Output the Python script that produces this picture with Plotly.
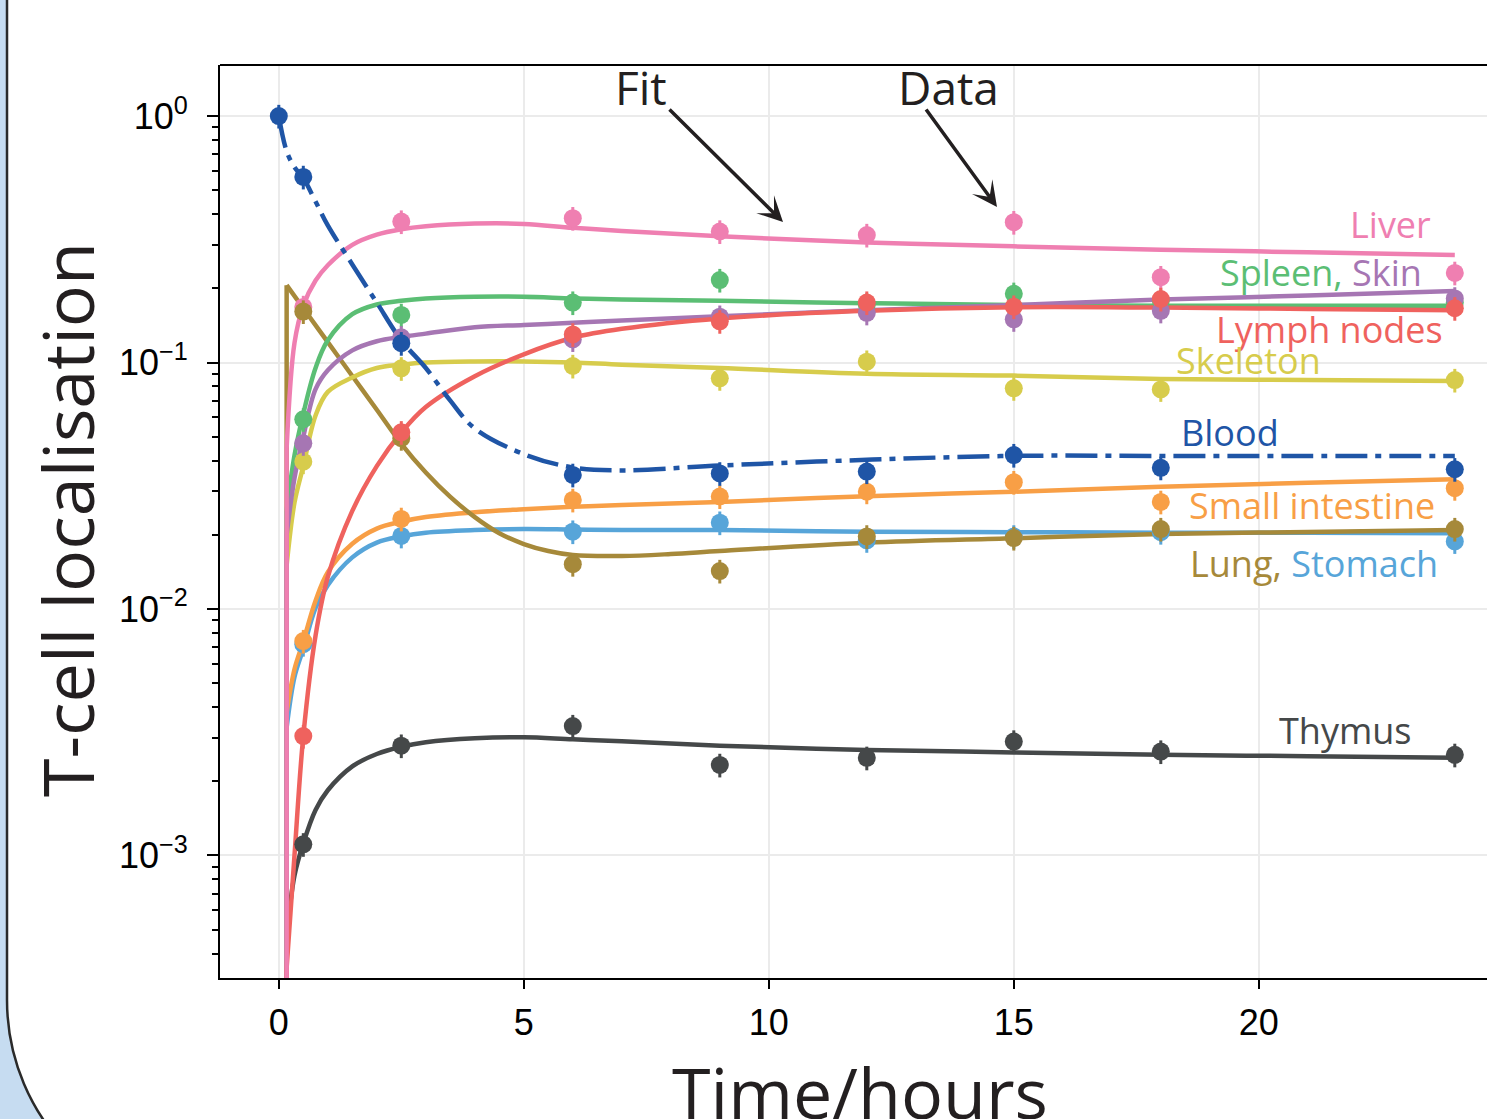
import plotly.graph_objects as go

# ---------------- data ----------------
data_t = [0.5, 2.5, 6, 9, 12, 15, 18, 24]
blood_t = [0, 0.5, 2.5, 6, 9, 12, 15, 18, 24]

liver_data = [0.168, 0.373, 0.385, 0.340, 0.329, 0.371, 0.222, 0.231]
spleen_data = [0.0588, 0.156, 0.175, 0.216, 0.172, 0.190, 0.178, 0.175]
skin_data = [0.047, 0.1265, 0.124, 0.1534, 0.159, 0.1497, 0.162, 0.182]
lymph_data = [0.00305, 0.0521, 0.130, 0.147, 0.175, 0.1685, 0.181, 0.166]
skeleton_data = [0.0396, 0.0947, 0.0968, 0.0863, 0.1008, 0.0786, 0.0778, 0.0849]
blood_data = [1.0, 0.566, 0.1197, 0.035, 0.0355, 0.0361, 0.0421, 0.0374, 0.0369]
smallint_data = [0.00741, 0.0232, 0.0277, 0.0286, 0.0299, 0.0327, 0.0272, 0.0309]
stomach_data = [0.0072, 0.0198, 0.0206, 0.0224, 0.0190, 0.0197, 0.0205, 0.0188]
lung_data = [0.161, 0.0493, 0.0152, 0.01426, 0.0197, 0.0194, 0.0211, 0.0211]
thymus_data = [0.00111, 0.00279, 0.00335, 0.00233, 0.00249, 0.0029, 0.00264, 0.00256]

# fitted model curves
fit_t = [0.16, 0.32, 0.5, 0.75, 1.0, 1.5, 2.0, 2.5, 3.0, 4.0, 5.0, 6.0, 7.0, 9.0, 12.0, 15.0, 18.0, 21.0, 24.0]
liver_fit = [0.045, 0.12, 0.170, 0.215, 0.248, 0.300, 0.330, 0.347, 0.357, 0.366, 0.365, 0.352, 0.342, 0.325, 0.307, 0.296, 0.287, 0.280, 0.273]
spleen_fit = [0.025, 0.042, 0.062, 0.095, 0.123, 0.157, 0.172, 0.178, 0.182, 0.185, 0.185, 0.182, 0.180, 0.178, 0.174, 0.171, 0.170, 0.170, 0.170]
skin_fit = [0.020, 0.034, 0.050, 0.078, 0.093, 0.112, 0.122, 0.127, 0.131, 0.139, 0.142, 0.145, 0.148, 0.154, 0.163, 0.171, 0.180, 0.187, 0.195]
skeleton_fit = [0.015, 0.027, 0.038, 0.061, 0.076, 0.087, 0.095, 0.098, 0.100, 0.101, 0.101, 0.100, 0.098, 0.095, 0.090, 0.0885, 0.0858, 0.085, 0.0841]
lymph_fit = [0.00035, 0.0010, 0.00305, 0.0078, 0.0135, 0.025, 0.038, 0.052, 0.066, 0.088, 0.108, 0.126, 0.137, 0.151, 0.162, 0.1675, 0.167, 0.165, 0.163]
smallint_fit = [0.0038, 0.0057, 0.0074, 0.0108, 0.0141, 0.0184, 0.0212, 0.0226, 0.0236, 0.0247, 0.0254, 0.0260, 0.0264, 0.0272, 0.0287, 0.0299, 0.0313, 0.0325, 0.0336]
stomach_fit = [0.0033, 0.0053, 0.0069, 0.0101, 0.0125, 0.0162, 0.0186, 0.0197, 0.0204, 0.0209, 0.0211, 0.0210, 0.0209, 0.0209, 0.0206, 0.0205, 0.0204, 0.0204, 0.0203]
thymus_fit = [0.00047, 0.00083, 0.00112, 0.00153, 0.00184, 0.00230, 0.00258, 0.00276, 0.00288, 0.00299, 0.00302, 0.00296, 0.00291, 0.00279, 0.00268, 0.00262, 0.00256, 0.00253, 0.00249]

lung_fit_t = [0.16, 0.5, 1.0, 1.5, 2.0, 2.5, 3.0, 3.5, 4.0, 4.5, 5.0, 5.5, 6.0, 7.0, 8.0, 9.0, 12.0, 15.0, 18.0, 21.0, 24.0]
lung_fit = [0.206, 0.166, 0.121, 0.0882, 0.0643, 0.0468, 0.0358, 0.0285, 0.0236, 0.0203, 0.01835, 0.01719, 0.01656, 0.01641, 0.01671, 0.01719, 0.01858, 0.01936, 0.02015, 0.02053, 0.02092]

blood_fit_t = [0, 0.16, 0.32, 0.5, 0.75, 1.0, 1.5, 2.0, 2.5, 3.0, 3.5, 4.0, 5.0, 6.0, 7.0, 9.0, 12.0, 15.0, 18.0, 21.0, 24.0]
blood_fit = [1.0, 0.72, 0.62, 0.56, 0.45, 0.36, 0.25, 0.175, 0.123, 0.095, 0.070, 0.054, 0.0425, 0.0375, 0.0365, 0.0382, 0.0403, 0.0418, 0.0418, 0.0418, 0.0418]

below_axis = 1e-6   # model value before the first time step (effectively zero)

x_ticks = [0, 5, 10, 15, 20]
y_ticks = [1e-3, 1e-2, 1e-1, 1]
y_ticktext = ["10<sup>\u22123</sup>", "10<sup>\u22122</sup>", "10<sup>\u22121</sup>", "10<sup>0</sup>"]

C = dict(liver="#ef7fb1", spleen="#5bbe74", skin="#a676b3", lymph="#ef625e",
         skeleton="#d7cc4c", blood="#1f55a6", smallint="#f89f46", stomach="#57a5d9",
         lung="#a6893a", thymus="#454849")

LAB_FONT = "Open Sans"
W, H = 1487, 1119
L, R, T, B = 220, 0, 65, 141
PW, PH = W - L - R, H - T - B


def PX(px):
    return (px - L) / PW


def PY(py):
    return (H - B - py) / PH


fig = go.Figure()


def fit_line(t, v, color, shape="spline", dash="solid", drop=True):
    if drop:
        # vertical rise from (effectively) zero at the first model time step
        fig.add_trace(go.Scatter(x=[t[0], t[0]], y=[below_axis, v[0]], mode="lines",
                                 line=dict(color=color, width=4.5), hoverinfo="skip"))
    fig.add_trace(go.Scatter(x=t, y=v, mode="lines",
                             line=dict(color=color, width=4.5, shape=shape, dash=dash),
                             hoverinfo="skip"))


fit_line(fit_t, thymus_fit, C["thymus"])
fit_line(fit_t, stomach_fit, C["stomach"])
fit_line(fit_t, smallint_fit, C["smallint"])
fit_line(lung_fit_t, lung_fit, C["lung"])
fit_line(fit_t, skeleton_fit, C["skeleton"])
fit_line(fit_t, spleen_fit, C["spleen"])
fit_line(fit_t, skin_fit, C["skin"])
fit_line(fit_t, lymph_fit, C["lymph"])
fit_line(fit_t, liver_fit, C["liver"])
fit_line(blood_fit_t, blood_fit, C["blood"], dash="32px,8px,6px,8px", drop=False)


def data_pts(t, v, color):
    fig.add_trace(go.Scatter(x=t, y=v, mode="markers",
                             marker=dict(color=color, size=18, line=dict(width=0)),
                             error_y=dict(type="percent", value=11, color=color, thickness=3, width=0),
                             hoverinfo="skip"))


data_pts(data_t, thymus_data, C["thymus"])
data_pts(data_t, stomach_data, C["stomach"])
data_pts(data_t, smallint_data, C["smallint"])
data_pts(data_t, skeleton_data, C["skeleton"])
data_pts(data_t, spleen_data, C["spleen"])
data_pts(data_t, skin_data, C["skin"])
data_pts(data_t, liver_data, C["liver"])
data_pts(data_t, lung_data, C["lung"])
data_pts(data_t, lymph_data, C["lymph"])
data_pts(blood_t, blood_data, C["blood"])

# ---------------- layout ----------------
axis_font = dict(family="Liberation Sans, Arial", size=36, color="black")
grid = "#ebebeb"

fig.update_layout(
    width=W, height=H,
    margin=dict(l=L, r=R, t=T, b=B),
    paper_bgcolor="white", plot_bgcolor="white",
    showlegend=False,
    xaxis=dict(range=[-1.2, -1.2 + PW / 49.0], tickmode="array", tickvals=x_ticks,
               ticks="outside", ticklen=9, tickwidth=2, tickcolor="black",
               showline=True, linecolor="black", linewidth=2,
               showgrid=True, gridcolor=grid, gridwidth=1.5, zeroline=False,
               tickfont=axis_font, ticklabelstandoff=3),
    yaxis=dict(type="log", range=[-3.497, 0.207], tickmode="array",
               tickvals=y_ticks, ticktext=y_ticktext,
               ticks="outside", ticklen=11, tickwidth=2, tickcolor="black",
               showline=True, linecolor="black", linewidth=2,
               showgrid=True, gridcolor=grid, gridwidth=1.5, zeroline=False,
               tickfont=dict(family="Liberation Sans, Arial", size=36, color="black"),
               ticklabelstandoff=12,
               minor=dict(ticks="outside", ticklen=6, tickwidth=1.5, tickcolor="black",
                          showgrid=False, tickmode="array",
                          tickvals=[m * 10 ** e for e in (-4, -3, -2, -1) for m in range(2, 10)])),
)

# panel background and frame
r = 215
k = 0.5523 * r
cx, cy = 7 + r, 1000


def P(x, y):
    return f"{PX(x):.5f},{PY(y):.5f}"


fill_path = (f"M{P(-5, -5)} L{P(7, -5)} L{P(7, cy)} C{P(7, cy + k)} {P(cx - k, cy + r)} {P(cx, cy + r)} "
             f"L{P(-5, cy + r)} Z")
line_path = f"M{P(7, -5)} L{P(7, cy)} C{P(7, cy + k)} {P(cx - k, cy + r)} {P(cx, cy + r)}"
fig.add_shape(type="path", xref="paper", yref="paper", path=fill_path,
              fillcolor="#c6dcf1", line=dict(width=0), layer="below")
fig.add_shape(type="path", xref="paper", yref="paper", path=line_path,
              line=dict(color="#2a2a2a", width=2.5), layer="below")
fig.add_shape(type="line", xref="paper", yref="paper", x0=0, x1=1.01, y0=1, y1=1,
              line=dict(color="black", width=2))

# axis titles
fig.add_annotation(text="T-cell localisation", xref="paper", yref="paper",
                   x=PX(67), y=PY(520), textangle=-90, showarrow=False,
                   xanchor="center", yanchor="middle",
                   font=dict(family=LAB_FONT, size=70, color="#231f20"))
fig.add_annotation(text="Time/hours", xref="paper", yref="paper",
                   x=PX(860), y=PY(1042), showarrow=False,
                   xanchor="center", yanchor="top",
                   font=dict(family=LAB_FONT, size=70, color="#231f20"))

# series labels
labels = [
    ("Liver", C["liver"], 1433, 224),
    (f"<span style='color:{C['spleen']}'>Spleen, </span><span style='color:{C['skin']}'>Skin</span>", None, 1424, 272),
    ("Lymph nodes", C["lymph"], 1445, 330),
    ("Skeleton", C["skeleton"], 1323, 360),
    ("Blood", C["blood"], 1281, 432),
    ("Small intestine", C["smallint"], 1437, 505),
    (f"<span style='color:{C['lung']}'>Lung, </span><span style='color:{C['stomach']}'>Stomach</span>", None, 1440, 563),
    ("Thymus", C["thymus"], 1414, 730),
]
for txt, col, xr, yc in labels:
    fig.add_annotation(text=txt, xref="paper", yref="paper", x=PX(xr), y=PY(yc),
                       xanchor="right", yanchor="middle", showarrow=False,
                       font=dict(family=LAB_FONT, size=36, color=col or "black"))

# Fit / Data callouts
fig.add_annotation(text="Fit", xref="paper", yref="paper", x=PX(641), y=PY(87),
                   xanchor="center", yanchor="middle", showarrow=False,
                   font=dict(family=LAB_FONT, size=46, color="#231f20"))
fig.add_annotation(text="Data", xref="paper", yref="paper", x=PX(948), y=PY(87),
                   xanchor="center", yanchor="middle", showarrow=False,
                   font=dict(family=LAB_FONT, size=46, color="#231f20"))
for (tx, ty, hx, hy) in [(668, 108, 783, 222), (925, 108, 997, 207)]:
    fig.add_annotation(text="", xref="paper", yref="paper", x=PX(hx), y=PY(hy),
                       ax=tx - hx, ay=ty - hy, showarrow=True,
                       arrowhead=3, arrowsize=1.2, arrowwidth=3.5, arrowcolor="#231f20")

fig.write_html("out.html")
